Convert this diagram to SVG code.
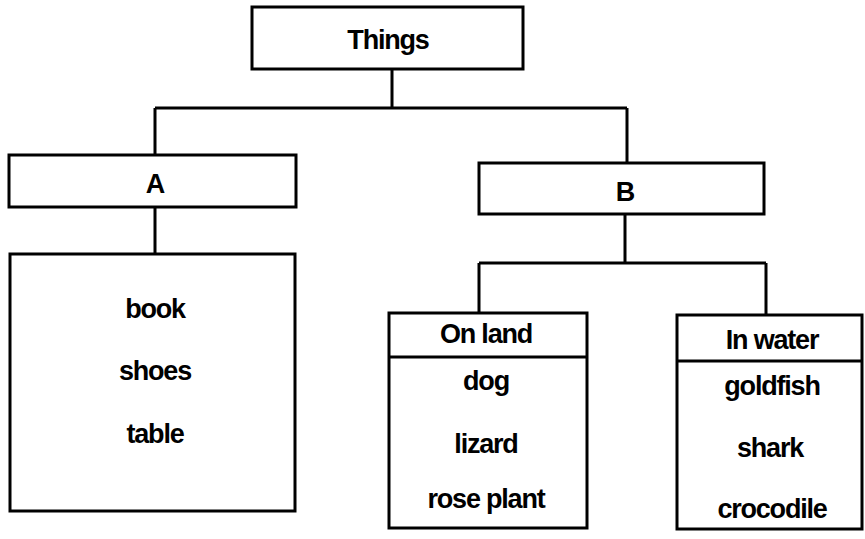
<svg xmlns="http://www.w3.org/2000/svg" width="865" height="539" viewBox="0 0 865 539">
<style>
.box{fill:#fff;stroke:#000;stroke-width:3}
.ln{fill:none;stroke:#000;stroke-width:3}
text{font-family:"Liberation Sans",Arial,sans-serif;font-weight:bold;font-size:27px;letter-spacing:-1.2px;text-anchor:middle;fill:#000}
</style>
<rect width="865" height="539" fill="#fff"/>
<g id="connectors">
<path class="ln" d="M392 69V108M155 108H627M155 108V155M627 108V163M155 207V254M625 214V263M479 263H766M479 263V313M766 263V315"/>
</g>
<g id="things">
<rect class="box" x="252" y="7" width="271" height="62"/>
<text x="388" y="49">Things</text>
</g>
<g id="a">
<rect class="box" x="9" y="155" width="287" height="52"/>
<text x="155" y="193">A</text>
</g>
<g id="a-items">
<rect class="box" x="10" y="254" width="285" height="257"/>
<text x="155" y="318">book</text>
<text x="155" y="380">shoes</text>
<text x="155" y="443">table</text>
</g>
<g id="b">
<rect class="box" x="479" y="163" width="285" height="51"/>
<text x="625" y="201">B</text>
</g>
<g id="on-land">
<rect class="box" x="389" y="313" width="198" height="215"/>
<line class="ln" x1="389" y1="357" x2="587" y2="357"/>
<text x="486" y="343">On land</text>
<text x="486" y="390">dog</text>
<text x="486" y="453">lizard</text>
<text x="486" y="508">rose plant</text>
</g>
<g id="in-water">
<rect class="box" x="677" y="315" width="185" height="214"/>
<line class="ln" x1="677" y1="361" x2="862" y2="361"/>
<text x="772" y="349">In water</text>
<text x="772" y="395">goldfish</text>
<text x="770" y="457">shark</text>
<text x="772" y="518">crocodile</text>
</g>
</svg>
